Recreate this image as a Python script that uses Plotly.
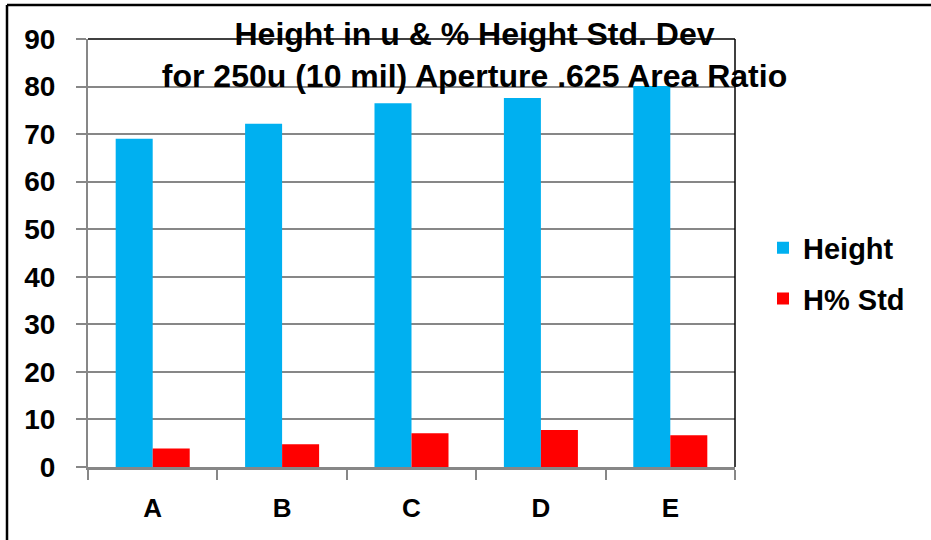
import plotly.graph_objects as go

categories = ["A", "B", "C", "D", "E"]
height_vals = [69.0, 72.2, 76.5, 77.6, 80.1]
std_vals = [3.9, 4.8, 7.1, 7.8, 6.7]
y_ticks = [0, 10, 20, 30, 40, 50, 60, 70, 80, 90]

W, H = 931, 540
ML, MR, MT, MB = 88, 196, 39, 73
PW, PH = W - ML - MR, H - MT - MB

def px_x(p):
    return (p - ML) / PW

def px_y(p):
    return (H - MB - p) / PH

FONT = "Liberation Sans, Arial, sans-serif"
GRID = "#878787"

fig = go.Figure()
fig.add_trace(go.Bar(name="Height", x=categories, y=height_vals,
                     marker=dict(color="#00B0F0", line=dict(width=0)),
                     legendgroup="g1"))
fig.add_trace(go.Bar(name="H% Std", x=categories, y=std_vals,
                     marker=dict(color="#FF0000", line=dict(width=0)),
                     legendgroup="g2"))

fig.update_layout(
    width=W, height=H,
    margin=dict(l=ML, r=MR, t=MT, b=MB, pad=0),
    paper_bgcolor="white", plot_bgcolor="white",
    barmode="group", bargap=0.428, bargroupgap=0,
    title=dict(text="Height in u & % Height Std. Dev<br>for 250u (10 mil) Aperture .625 Area Ratio",
               x=474.5 / W, xanchor="center", y=1 - 45 / H, yanchor="top",
               font=dict(family=FONT, size=32, color="black", weight="bold")),
    font=dict(family=FONT, color="black"),
    legend=dict(x=px_x(763), xanchor="left", y=px_y(273.5), yanchor="middle",
                font=dict(family=FONT, size=29, color="black", weight="bold"),
                bgcolor="rgba(0,0,0,0)", traceorder="grouped", tracegroupgap=10),
    showlegend=True,
)

fig.update_yaxes(range=[0, 90], tickvals=y_ticks, showgrid=True, gridcolor=GRID, gridwidth=1.5,
                 showline=True, linecolor=GRID, linewidth=2, ticks="outside", ticklen=10,
                 tickcolor=GRID, tickwidth=2, zeroline=False, ticklabelstandoff=15,
                 tickfont=dict(family=FONT, size=28, color="black", weight="bold"),
                 fixedrange=True)
fig.update_xaxes(showgrid=False, showline=True, linecolor=GRID, linewidth=2.5,
                 ticks="outside", tickson="boundaries", ticklen=10, tickcolor=GRID, tickwidth=2,
                 ticklabelstandoff=16,
                 tickfont=dict(family=FONT, size=26, color="black", weight="bold"),
                 fixedrange=True)

# plot-area top and right borders (black)
fig.add_shape(type="line", xref="x domain", yref="y domain", x0=0, x1=1, y0=1, y1=1,
              line=dict(color="black", width=1.5), layer="above")
fig.add_shape(type="line", xref="x domain", yref="y domain", x0=1, x1=1, y0=0, y1=1,
              line=dict(color="black", width=1.5), layer="above")
# outer frame: top and left
fig.add_shape(type="line", xref="paper", yref="paper", x0=px_x(7), x1=px_x(W), y0=px_y(5), y1=px_y(5),
              line=dict(color="black", width=2.5), layer="above")
fig.add_shape(type="line", xref="paper", yref="paper", x0=px_x(7), x1=px_x(7), y0=px_y(5), y1=px_y(H),
              line=dict(color="black", width=2.5), layer="above")

fig.write_html("out.html", config={"displayModeBar": False},
               post_script="document.body.style.margin='0';document.body.style.overflow='hidden';")
